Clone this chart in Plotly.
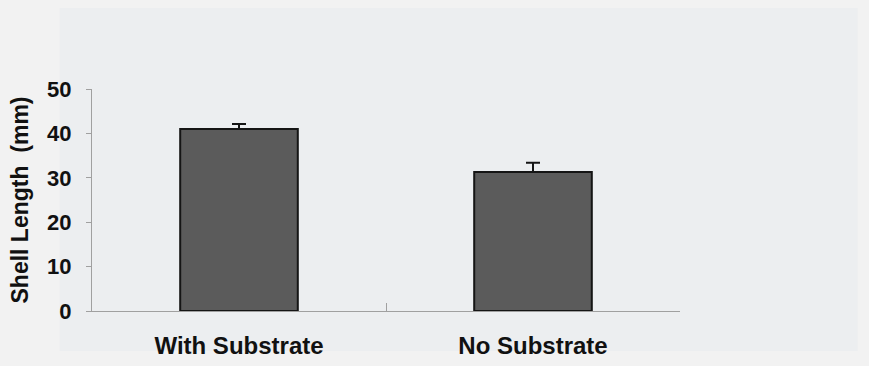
import plotly.graph_objects as go

# Mean shell length by rearing condition, with standard error
categories = ["With Substrate", "No Substrate"]
shell_length = [41.0, 31.3]
shell_error = [1.1, 2.1]
y_ticks = [0, 10, 20, 30, 40, 50]

FONT = "Liberation Sans, Arial, sans-serif"

fig = go.Figure(
    go.Bar(
        x=categories,
        y=shell_length,
        marker=dict(color="#5b5b5b", line=dict(color="#151515", width=2)),
        error_y=dict(
            type="data",
            symmetric=False,
            array=shell_error,
            arrayminus=[0] * len(shell_error),
            color="#151515",
            thickness=2,
            width=7,
        ),
        showlegend=False,
    )
)

fig.update_layout(
    width=869,
    height=366,
    margin=dict(l=92, r=189, t=89, b=55),
    paper_bgcolor="#f2f2f2",
    plot_bgcolor="rgba(0,0,0,0)",
    bargap=0.6,
    shapes=[
        # slightly darker panel behind the chart
        dict(type="rect", xref="paper", yref="paper", layer="below",
             x0=-0.055, x1=1.302, y0=-0.18, y1=1.365,
             fillcolor="#eceef0", line=dict(width=0)),
    ],
)

fig.update_xaxes(
    automargin=False,
    showline=True,
    linecolor="#a0a0a0",
    linewidth=1,
    ticks="inside",
    tickson="boundaries",
    ticklen=8,
    tickcolor="#a0a0a0",
    showgrid=False,
    tickfont=dict(family=FONT, size=24, color="#111111", weight="bold"),
    ticklabelstandoff=13,
)

fig.update_yaxes(
    automargin=False,
    range=[0, 50],
    tickvals=y_ticks,
    ticks="outside",
    ticklen=5,
    tickcolor="#a0a0a0",
    showline=True,
    linecolor="#a0a0a0",
    linewidth=1,
    showgrid=False,
    zeroline=False,
    tickfont=dict(family=FONT, size=22, color="#111111", weight="bold"),
    ticklabelstandoff=10,
    title=dict(
        text="Shell Length\u00a0 (mm)",
        font=dict(family=FONT, size=23, color="#111111", weight="bold"),
        standoff=12,
    ),
)

fig.write_html("out.html")
